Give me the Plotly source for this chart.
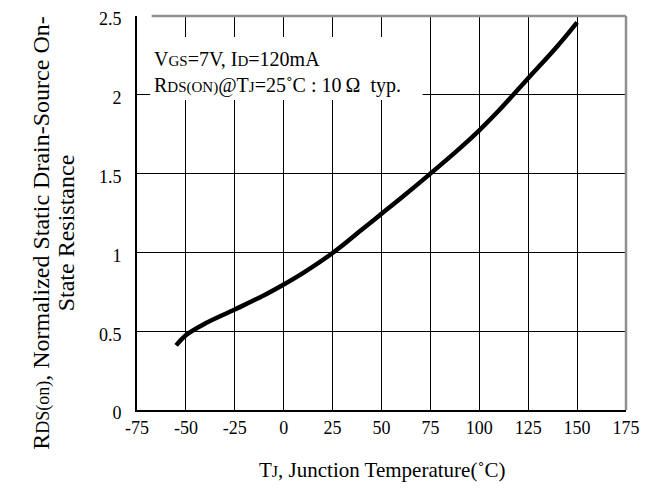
import plotly.graph_objects as go

# Data
temp_c = [-55, -50, -40, -25, -10, 0, 10, 25, 40, 50, 60, 75, 90, 100, 110, 125, 140, 150]
rds_norm = [0.41, 0.475, 0.55, 0.638, 0.728, 0.796, 0.87, 0.996, 1.145, 1.245, 1.345, 1.5,
            1.66, 1.775, 1.9, 2.105, 2.31, 2.46]

x_ticks = [-75, -50, -25, 0, 25, 50, 75, 100, 125, 150, 175]
y_ticks = [0, 0.5, 1, 1.5, 2, 2.5]
y_tick_text = ["0", "0.5", "1", "1.5", "2", "2.5"]

FONT = "Liberation Serif"

# page body has an 8px margin: figure drawn at (8, 8)
W, H = 636, 477

fig = go.Figure()
fig.add_trace(go.Scatter(
    x=temp_c, y=rds_norm, mode="lines",
    line=dict(color="black", width=4.5, shape="spline", smoothing=1.0),
    hoverinfo="skip", showlegend=False,
))

fig.update_layout(
    width=W, height=H,
    margin=dict(l=129, r=18, t=8, b=75, autoexpand=False),
    paper_bgcolor="white", plot_bgcolor="white",
    font=dict(family=FONT, size=18, color="black"),
    showlegend=False,
)
fig.update_xaxes(
    range=[-75, 175], tickvals=x_ticks, ticktext=[str(v) for v in x_ticks],
    showgrid=True, gridcolor="black", gridwidth=1,
    showline=True, linecolor="black", linewidth=2,
    ticks="", zeroline=False, tickfont=dict(size=18), ticklabeloverflow="allow",
    automargin=False,
)
fig.update_yaxes(
    range=[0, 2.5], tickvals=y_ticks, ticktext=y_tick_text,
    showgrid=True, gridcolor="black", gridwidth=1,
    showline=True, linecolor="black", linewidth=2,
    ticks="", zeroline=False, tickfont=dict(size=18), ticklabelstandoff=10,
    ticklabelshift=3, ticklabeloverflow="allow", automargin=False,
)

# gray top and right frame
fig.add_shape(type="line", xref="paper", yref="paper", x0=0.03, x1=1, y0=1, y1=1,
              line=dict(color="#909090", width=2.5))
fig.add_shape(type="line", xref="paper", yref="paper", x0=1, x1=1, y0=0, y1=1,
              line=dict(color="#909090", width=2.5))

# white backing of the condition note (hides grid lines behind it)
fig.add_shape(type="rect", xref="paper", yref="paper", x0=0.027, x1=0.584, y0=0.787, y1=0.947,
              fillcolor="white", line=dict(width=0), layer="above")

sm = "<span style='font-size:15px'>%s</span>"
note = ("V" + sm % "GS" + "=7V, I" + sm % "D" + "=120mA<br>"
        "R" + sm % "DS(ON)" + "@T" + sm % "J" + "=25˚C : 10\u2009Ω  typ.")
fig.add_annotation(
    text=note, xref="paper", yref="paper", x=0.027, y=0.93,
    xanchor="left", yanchor="top", align="left", showarrow=False,
    borderpad=3, font=dict(family=FONT, size=20),
)

# axis titles
fig.add_annotation(
    text="T" + "<span style='font-size:16px'>J</span>" + ", Junction Temperature(˚C)",
    xref="paper", yref="paper", x=0.5, y=-0.152, xanchor="center", yanchor="middle",
    showarrow=False, font=dict(family=FONT, size=21),
)
fig.add_annotation(
    text="R<span style='font-size:18px'>DS(on)</span>, Normalized Static Drain-Source On-",
    xref="paper", yref="paper", x=-0.196, y=0.45, xanchor="center", yanchor="middle",
    textangle=-90, showarrow=False, font=dict(family=FONT, size=24),
)
fig.add_annotation(
    text="State Resistance",
    xref="paper", yref="paper", x=-0.146, y=0.45, xanchor="center", yanchor="middle",
    textangle=-90, showarrow=False, font=dict(family=FONT, size=24),
)

fig.write_html("out.html")
